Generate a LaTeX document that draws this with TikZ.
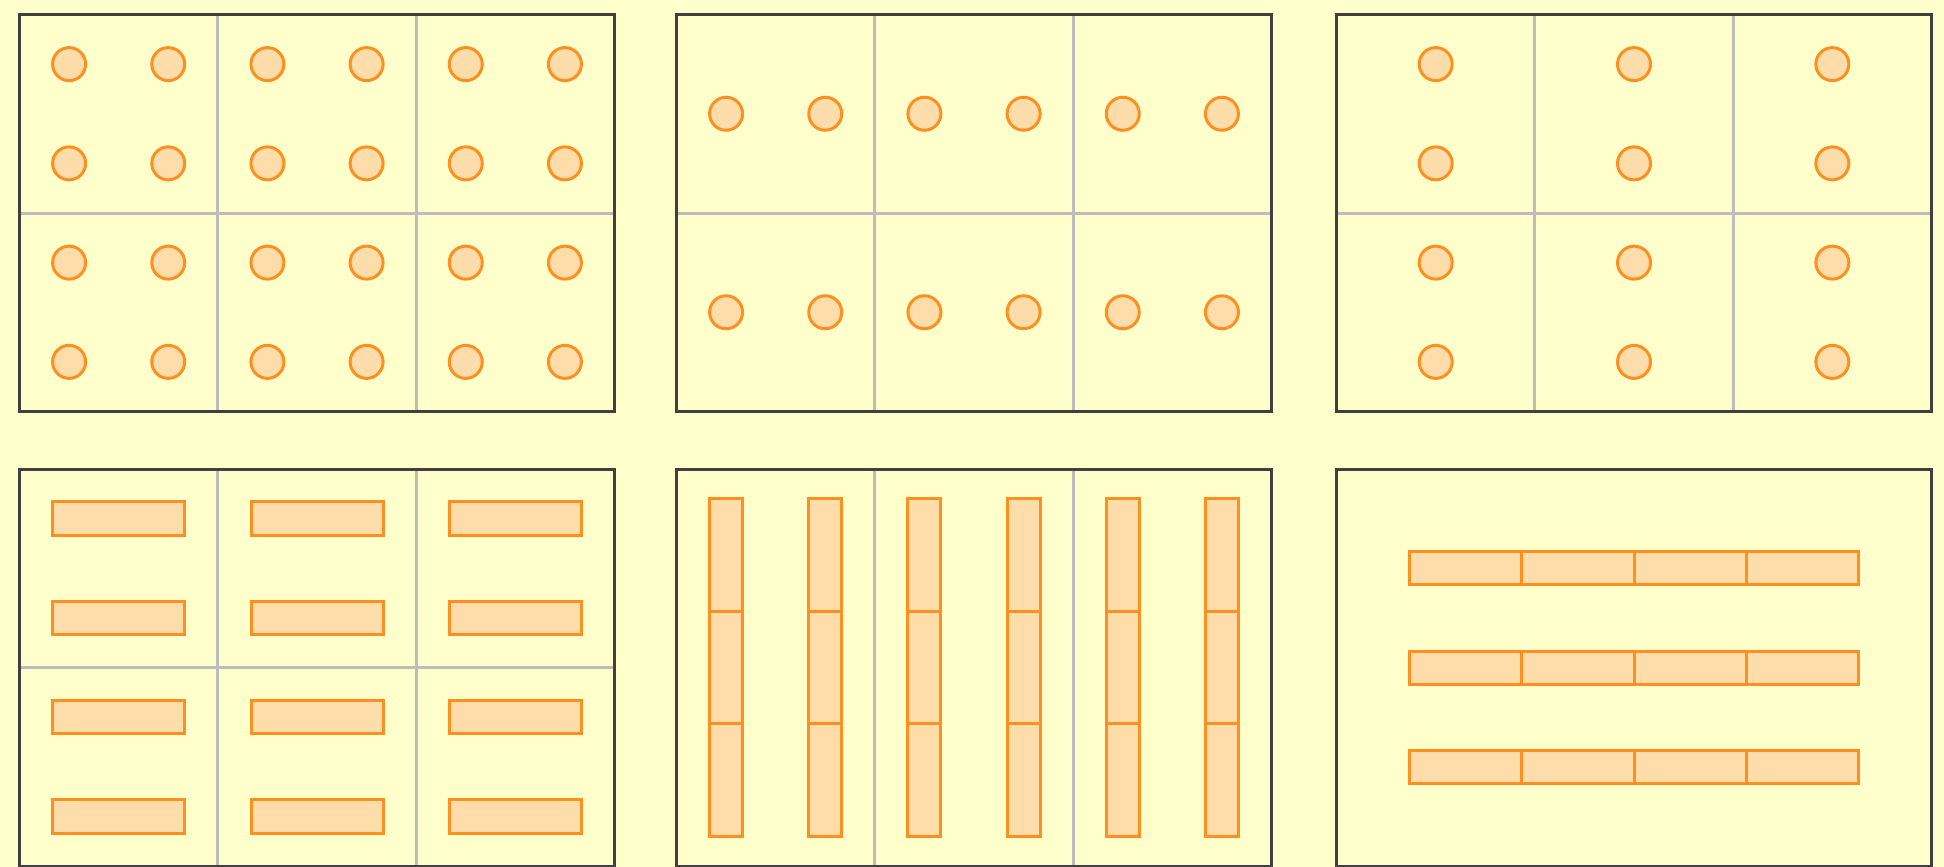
\documentclass[tikz,border=0pt]{standalone}
\usepackage{tikz}
\usetikzlibrary{calc}
\definecolor{ltbg}{HTML}{FFFFCC}
\definecolor{ltframe}{HTML}{404040}
\definecolor{ltgrid}{HTML}{BDBDBD}
\definecolor{ltorange}{HTML}{FF9020}
\definecolor{ltpeach}{HTML}{FFDDAA}
\tikzset{
  lt panel/.style={draw=ltframe, line width=3pt},
  lt grid/.style={draw=ltgrid, line width=3pt},
  lt pin/.style={draw=ltorange, fill=ltpeach, line width=3pt},
  lt slab/.style={draw=ltorange, fill=ltpeach, line width=3pt},
}
\newcommand{\ltW}{595}
\newcommand{\ltH}{397}
\newcommand{\ltseg}{112.4}
% vertical grid lines at thirds, optional horizontal middle line
\newcommand{\ltcols}{\draw[lt grid] (\ltW/3,0) -- (\ltW/3,\ltH) (2*\ltW/3,0) -- (2*\ltW/3,\ltH);}
\newcommand{\ltrow}{\draw[lt grid] (0,\ltH/2) -- (\ltW,\ltH/2);}
\newcommand{\ltframe}{\draw[lt panel] (0,0) rectangle (\ltW,\ltH);}

\begin{document}
\begin{tikzpicture}[x=1pt, y=-1pt]
 \fill[ltbg] (0,0) rectangle (1944,867);
 \useasboundingbox (0,0) rectangle (1944,867);
 % top row: pin layouts
 \begin{scope}[shift={(19.5,14.5)}]
  \ltcols \ltrow
  \foreach \i in {1,3,...,11} \foreach \j in {1,3,5,7}
   \draw[lt pin] ({\i*\ltW/12},{\j*\ltH/8}) circle[radius=16.5];
  \ltframe
 \end{scope}
 \begin{scope}[shift={(676.5,14.5)}]
  \ltcols \ltrow
  \foreach \i in {1,3,...,11} \foreach \j in {1,3}
   \draw[lt pin] ({\i*\ltW/12},{\j*\ltH/4}) circle[radius=16.5];
  \ltframe
 \end{scope}
 \begin{scope}[shift={(1336.5,14.5)}]
  \ltcols \ltrow
  \foreach \i in {1,3,5} \foreach \j in {1,3,5,7}
   \draw[lt pin] ({\i*\ltW/6},{\j*\ltH/8}) circle[radius=16.5];
  \ltframe
 \end{scope}
 % bottom row: slab layouts
 \begin{scope}[shift={(19.5,469)}]
  \ltcols \ltrow
  \foreach \i in {1,3,5} \foreach \j in {1,3,5,7}
   \draw[lt slab] ({\i*\ltW/6-66},{\j*\ltH/8-16.75}) rectangle ++(132,33.5);
  \ltframe
 \end{scope}
 \begin{scope}[shift={(676.5,469)}]
  \ltcols
  \foreach \i in {1,3,...,11} \foreach \k in {0,1,2}
   \draw[lt slab] ({\i*\ltW/12-16.5},{\ltH/2-1.5*\ltseg+\k*\ltseg}) rectangle ++(33,\ltseg);
  \ltframe
 \end{scope}
 \begin{scope}[shift={(1336.5,469)}]
  \foreach \j in {1,2,3} \foreach \k in {0,...,3}
   \draw[lt slab] ({\ltW/2-2*\ltseg+\k*\ltseg},{\j*\ltH/4-16.5}) rectangle ++(\ltseg,33);
  \ltframe
 \end{scope}
\end{tikzpicture}
\end{document}
